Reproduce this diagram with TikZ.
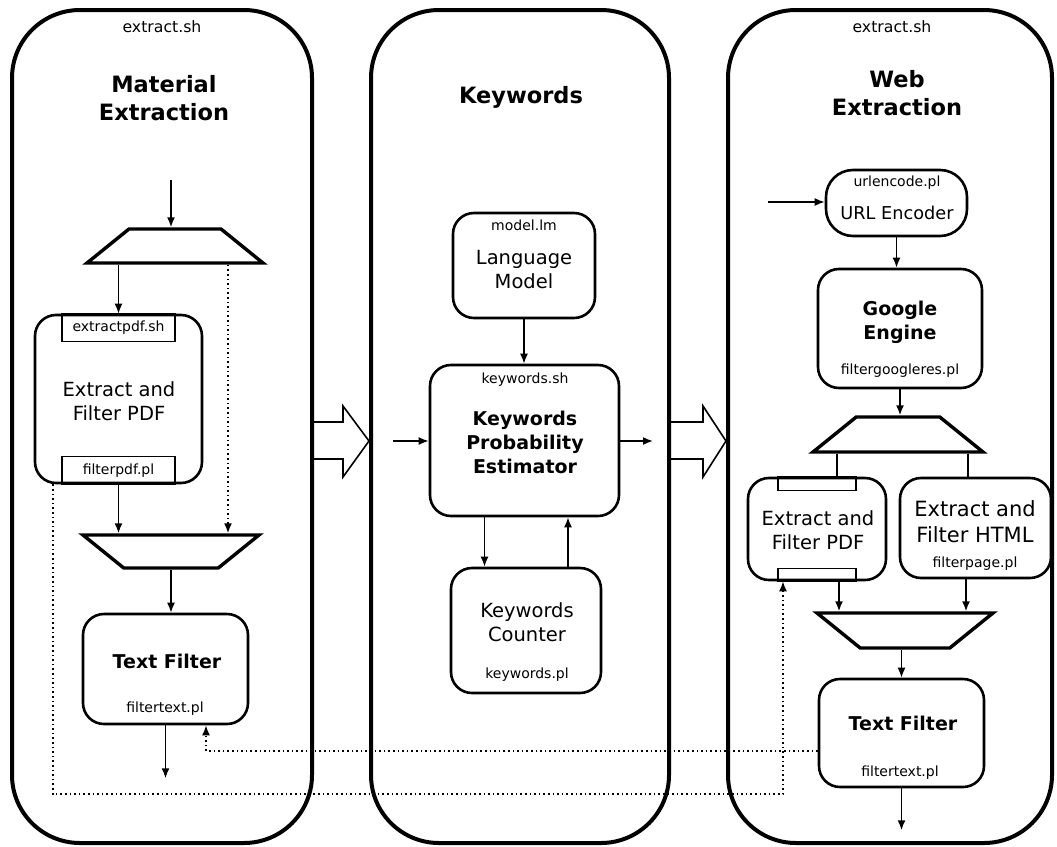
\documentclass[tikz,border=0pt]{standalone}
\usepackage{fontspec}
\setmainfont{DejaVu Sans}
\usetikzlibrary{shapes.geometric,arrows.meta,positioning}

\begin{document}
\begin{tikzpicture}[
  x=1pt, y=-1pt, % pixel grid, y grows downwards
  lane/.style={draw, line width=4pt, rounded corners=68pt, inner sep=0pt}, % the three big columns
  box/.style={draw, line width=2.6pt, rounded corners=21pt, inner sep=0pt},
  tab/.style={draw, line width=1.2pt, inner sep=0pt, outer sep=0pt, font=\fontsize{14}{16}\selectfont},
  split/.style={trapezium, draw, line width=3.4pt, trapezium stretches body, trapezium angle=39,
    minimum width=176pt, inner xsep=0pt, inner ysep=17pt}, % height = 2*inner ysep
  merge/.style={split, shape border rotate=180}, % upside down
  head/.style={font=\bfseries\fontsize{22.5}{28}\selectfont, align=center},
  title/.style={font=\bfseries\fontsize{19}{24}\selectfont, align=center},
  body/.style={font=\fontsize{19.5}{24}\selectfont, align=center},
  fname/.style={font=\fontsize{14}{16}\selectfont, inner sep=0pt},
  script/.style={font=\fontsize{15.7}{18}\selectfont, inner sep=0pt},
  arr/.style={-{Latex[length=10pt,width=8pt]}, line width=1.6pt},
  dotarr/.style={arr, dash pattern=on 1.6pt off 3pt},
  hollow/.style={line width=1.6pt, line join=miter}
]
\useasboundingbox (0,0) rectangle (1057,846);

% Columns
\node[lane, minimum width=300pt, minimum height=833pt] (matl) at (162,426.5) {};
\node[lane, minimum width=298pt, minimum height=833pt] (kwl) at (520,426.5) {};
\node[lane, minimum width=324pt, minimum height=833pt] (webl) at (890,426.5) {};

% Hollow arrows between the columns
\draw[hollow] (matl.east |- 0,422) -- (343,422) -- (343,406) -- (kwl.west |- 0,441)
  -- (343,477) -- (343,459) -- (matl.east |- 0,459);
\draw[hollow] (kwl.east |- 0,422) -- (703,422) -- (703,406) -- (webl.west |- 0,441)
  -- (703,477) -- (703,459) -- (kwl.east |- 0,459);

% Material extraction
\node[script] (matlsh) at (162,27) {extract.sh};
\node[head] (matlt) at (164,98) {Material\\Extraction};
\coordinate (cin) at (171,180);
\node[split] (T1) at (175,246) {};
\node[box, minimum width=167pt, minimum height=168pt] (ext) at (118.5,399) {};
\node[tab, minimum width=113pt, minimum height=28pt, anchor=north] (extt) at (ext.north) {extractpdf.sh};
\node[tab, minimum width=113pt, minimum height=28pt, anchor=south] (extb) at (ext.south) {filterpdf.pl};
\node[body] (extl) at (119,401) {Extract and\\Filter PDF};
\node[merge, inner ysep=16.5pt] (T2) at (171,551.5) {};
\node[box, minimum width=165pt, minimum height=110pt] (tfa) at (165.5,669) {};
\node[title] (tfat) at (167,661) {Text Filter};
\node[fname] (tfaf) at (165,709) {filtertext.pl};

% Keywords
\node[head] (kwlt) at (521,97) {Keywords};
\node[box, minimum width=142pt, minimum height=105pt] (lm) at (524,265.5) {};
\node[fname] (lmf) at (524,225) {model.lm};
\node[body] (lml) at (524,270) {Language\\Model};
\node[box, minimum width=189pt, minimum height=151pt] (kpe) at (524.5,440.5) {};
\node[fname] (kpef) at (525,380) {keywords.sh};
\node[title] (kpel) at (525,442) {Keywords\\Probability\\Estimator};
\coordinate (kin) at (393,441);
\coordinate (kout) at (653,441);
\node[box, minimum width=150pt, minimum height=125pt] (kc) at (526,630.5) {};
\node[body] (kcl) at (527,622) {Keywords\\Counter};
\node[fname] (kcf) at (527,675) {keywords.pl};

% Web extraction
\node[script] (weblsh) at (892,27) {extract.sh};
\node[head] (weblt) at (897,93) {Web\\Extraction};
\coordinate (win) at (768,202);
\node[box, minimum width=141pt, minimum height=66pt, rounded corners=27pt] (url) at (896.5,203) {};
\node[fname] (urlf) at (897,183) {urlencode.pl};
\node[body, font=\fontsize{17.7}{22}\selectfont] (urll) at (897,213) {URL Encoder};
\node[box, minimum width=164pt, minimum height=119pt] (ge) at (900,328.5) {};
\node[title] (get) at (900,322.5) {Google\\Engine};
\node[fname] (gef) at (900,371) {filtergoogleres.pl};
\node[split, minimum width=170pt, inner ysep=17.5pt] (T3) at (898,434.5) {};
\node[box, minimum width=138pt, minimum height=102pt] (pdf) at (817,529) {};
\node[tab, minimum width=78pt, minimum height=14pt, anchor=north] (pdft) at (pdf.north) {};
\node[tab, minimum width=78pt, minimum height=13pt, anchor=south] (pdfb) at (pdf.south) {};
\node[body] (pdfl) at (818,530) {Extract and\\Filter PDF};
\node[box, minimum width=151pt, minimum height=100pt] (html) at (975.5,528) {};
\node[body, font=\fontsize{21}{26}\selectfont] (htmll) at (975,521.5) {Extract and\\Filter HTML};
\node[fname] (htmlf) at (975,564) {filterpage.pl};
\node[merge, inner ysep=17.5pt] (T4) at (905,630.5) {};
\node[box, minimum width=165pt, minimum height=108pt] (tfb) at (901.5,733) {};
\node[title] (tfbt) at (903,723) {Text Filter};
\node[fname] (tfbf) at (900,773) {filtertext.pl};

% Connectors, left column
\draw[arr] (cin) -- (cin |- T1.north);
\draw[arr] (T1.south -| ext.north) -- (ext.north);
\draw[dotarr] ([xshift=53pt]T1.south) -- ([xshift=53pt]T1.south |- T2.north);
\draw[arr] (ext.south) -- (ext.south |- T2.north);
\draw[arr] (T2.south) -- (T2.south |- tfa.north);
\draw[arr] (tfa.south) -- ++(0,53);

% Connectors, middle column
\draw[arr] (lm.south) -- (lm.south |- kpe.north);
\draw[arr] (kin) -- (kin -| kpe.west);
\draw[arr] (kpe.east |- kout) -- (kout);
\draw[arr] ([xshift=-40pt]kpe.south) -- ([xshift=-40pt]kpe.south |- kc.north);
\draw[arr] ([xshift=43.5pt]kpe.south |- kc.north) -- ([xshift=43.5pt]kpe.south);

% Connectors, right column
\draw[arr] (win) -- (win -| url.west);
\draw[arr] (url.south) -- (url.south |- ge.north);
\draw[arr] (ge.south) -- (ge.south |- T3.north);
\draw[line width=1.6pt] ([xshift=-61pt]T3.south) -- ([xshift=-61pt]T3.south |- pdf.north);
\draw[line width=1.6pt] ([xshift=70pt]T3.south) -- ([xshift=70pt]T3.south |- html.north);
\draw[arr] ([xshift=22pt]pdf.south) -- ([xshift=22pt]pdf.south |- T4.north);
\draw[arr] ([xshift=-9.5pt]html.south) -- ([xshift=-9.5pt]html.south |- T4.north);
\draw[arr] (T4.south -| tfb.north) -- (tfb.north);
\draw[arr] (tfb.south) -- ++(0,42);

% Dotted feedback paths
\draw[dotarr] ([yshift=-18pt]tfb.west) -| ([xshift=40.5pt]tfa.south);
\coordinate (loop) at (0,794);
\draw[dotarr] ([xshift=19pt]ext.south west) -- ([xshift=19pt]ext.south west |- loop) -| ([xshift=-34pt]pdf.south);

\end{tikzpicture}
\end{document}
